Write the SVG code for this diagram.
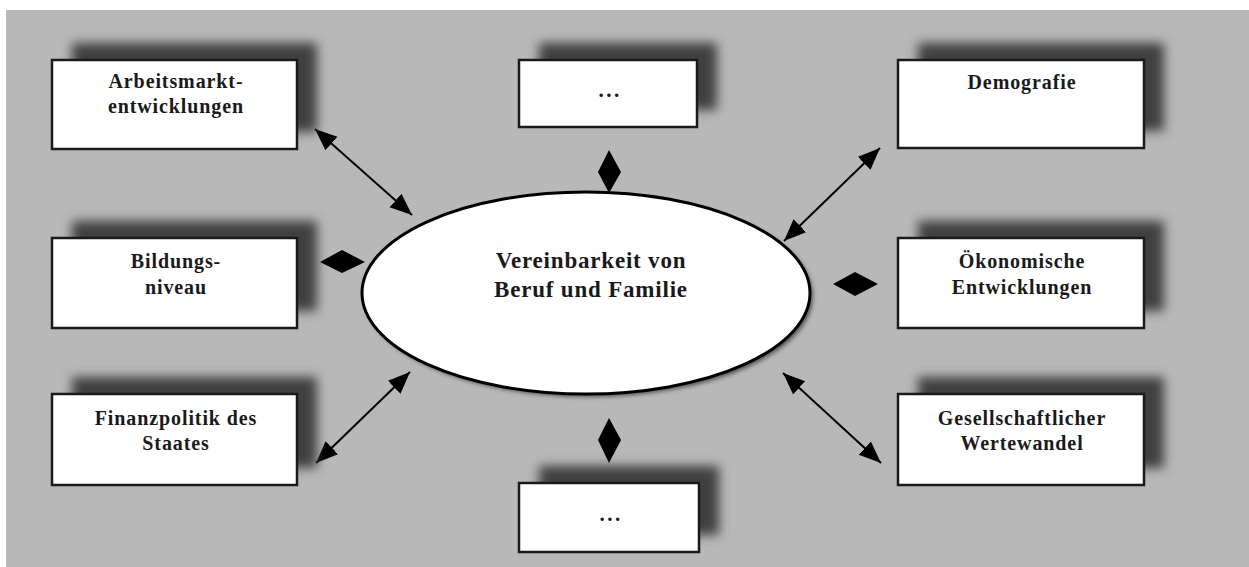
<svg xmlns="http://www.w3.org/2000/svg" width="1249" height="567" viewBox="0 0 1249 567">
<defs>
<style>
.box{fill:#fff;stroke:#1a1a1a;stroke-width:2.5}
.sh{fill:#404040;filter:url(#blur)}
.t{font-family:"Liberation Serif","Times New Roman",serif;font-weight:bold;font-size:20px;letter-spacing:0.9px;fill:#1a1a1a;text-anchor:middle}
.tc{font-size:23px;letter-spacing:0.8px}
.dots{letter-spacing:2.5px;font-size:21px}
.con{stroke:#000;stroke-width:2;fill:none;marker-start:url(#ah);marker-end:url(#ah)}
.dia{fill:#000}
</style>
<filter id="blur" x="-20%" y="-40%" width="140%" height="180%"><feGaussianBlur stdDeviation="5.5"/></filter>
<filter id="eblur" x="-10%" y="-10%" width="120%" height="120%"><feGaussianBlur stdDeviation="2"/></filter>
<marker id="ah" markerUnits="userSpaceOnUse" markerWidth="24" markerHeight="20" refX="22" refY="9" orient="auto-start-reverse" viewBox="0 0 24 20">
<path d="M0,0 L22,9 L0,18 z" fill="#000"/>
</marker>
</defs>
<rect x="0" y="0" width="1249" height="567" fill="#fff"/>
<rect x="6" y="10" width="1243" height="557" fill="#b8b8b8"/>

<g id="connectors">
<line class="con" x1="315" y1="129" x2="412" y2="215"/>
<line class="con" x1="880" y1="148" x2="784" y2="241"/>
<line class="con" x1="316" y1="463" x2="410" y2="372"/>
<line class="con" x1="881" y1="463" x2="783" y2="373"/>
<polygon class="dia" points="609,150 621,172 609,193 598,172"/>
<polygon class="dia" points="609,418 621,440 609,463 598,440"/>
<polygon class="dia" points="320,262 342,250 365,262 342,273"/>
<polygon class="dia" points="833,284 855,272 878,284 855,296"/>
</g>

<g id="center">
<ellipse cx="589" cy="296" rx="224" ry="101" fill="#555" filter="url(#eblur)"/>
<ellipse cx="586" cy="293" rx="224" ry="101" fill="#fff" stroke="#000" stroke-width="3"/>
<text class="t tc" x="591" y="268">Vereinbarkeit von</text>
<text class="t tc" x="591" y="297">Beruf und Familie</text>
</g>

<g id="arbeitsmarkt">
<rect class="sh" x="72" y="43" width="245" height="89"/>
<rect class="box" x="52" y="60" width="245" height="89"/>
<text class="t" x="176" y="88">Arbeitsmarkt-</text>
<text class="t" x="176" y="113">entwicklungen</text>
</g>

<g id="top-dots">
<rect class="sh" x="539" y="43" width="178" height="67"/>
<rect class="box" x="519" y="60" width="178" height="67"/>
<text class="t dots" x="610" y="97">...</text>
</g>

<g id="demografie">
<rect class="sh" x="918" y="43" width="246" height="88"/>
<rect class="box" x="898" y="60" width="246" height="88"/>
<text class="t" x="1022" y="89">Demografie</text>
</g>

<g id="bildung">
<rect class="sh" x="72" y="221" width="245" height="90"/>
<rect class="box" x="52" y="238" width="245" height="90"/>
<text class="t" x="176" y="268">Bildungs-</text>
<text class="t" x="176" y="294">niveau</text>
</g>

<g id="oekonomie">
<rect class="sh" x="918" y="221" width="246" height="90"/>
<rect class="box" x="898" y="238" width="246" height="90"/>
<text class="t" x="1022" y="268">Ökonomische</text>
<text class="t" x="1022" y="294">Entwicklungen</text>
</g>

<g id="finanzpolitik">
<rect class="sh" x="72" y="377" width="245" height="91"/>
<rect class="box" x="52" y="394" width="245" height="91"/>
<text class="t" x="176" y="425">Finanzpolitik des</text>
<text class="t" x="176" y="450">Staates</text>
</g>

<g id="wertewandel">
<rect class="sh" x="918" y="377" width="246" height="91"/>
<rect class="box" x="898" y="394" width="246" height="91"/>
<text class="t" x="1022" y="425">Gesellschaftlicher</text>
<text class="t" x="1022" y="450">Wertewandel</text>
</g>

<g id="bottom-dots">
<rect class="sh" x="539" y="466" width="180" height="69"/>
<rect class="box" x="519" y="483" width="180" height="69"/>
<text class="t dots" x="611" y="521">...</text>
</g>
</svg>
